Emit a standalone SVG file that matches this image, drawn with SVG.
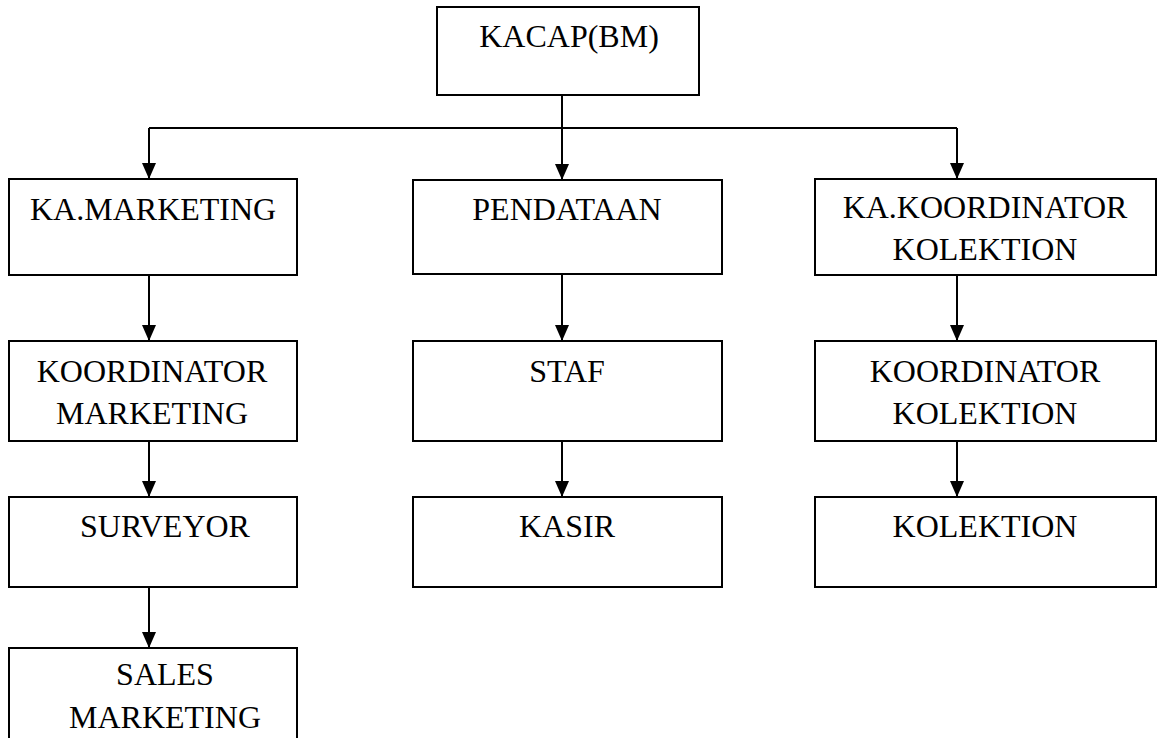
<svg xmlns="http://www.w3.org/2000/svg" width="1162" height="738" viewBox="0 0 1162 738">
<style>
.box{fill:#fff;stroke:#000;stroke-width:2}
.t{font-size:32px;fill:#000;text-anchor:middle}
.c{fill:none;stroke:#000;stroke-width:2}
</style>
<defs>
<marker id="ah" markerWidth="16" markerHeight="14" refX="16" refY="7" orient="auto" markerUnits="userSpaceOnUse" viewBox="0 0 16 14">
<path d="M0,0 L16,7 L0,14 Z" fill="#000"/>
</marker>
</defs>
<rect width="1162" height="738" fill="#fff"/>
<g id="connectors">
<path class="c" d="M562,95 V180" marker-end="url(#ah)"/>
<path class="c" d="M149,128 H957"/>
<path class="c" d="M149,128 V179" marker-end="url(#ah)"/>
<path class="c" d="M957,128 V179" marker-end="url(#ah)"/>
<path class="c" d="M149,275 V341" marker-end="url(#ah)"/>
<path class="c" d="M149,441 V497" marker-end="url(#ah)"/>
<path class="c" d="M149,587 V648" marker-end="url(#ah)"/>
<path class="c" d="M562,274 V341" marker-end="url(#ah)"/>
<path class="c" d="M562,441 V497" marker-end="url(#ah)"/>
<path class="c" d="M957,275 V341" marker-end="url(#ah)"/>
<path class="c" d="M957,441 V497" marker-end="url(#ah)"/>
</g>
<g font-family="Liberation Serif, Times New Roman, serif">
<g id="kacap"><rect class="box" x="437" y="7" width="262" height="88"/><text class="t" x="569" y="47">KACAP(BM)</text></g>
<g id="ka-marketing"><rect class="box" x="9" y="179" width="288" height="96"/><text class="t" x="30" y="220" style="text-anchor:start">KA.MARKETING</text></g>
<g id="pendataan"><rect class="box" x="413" y="180" width="309" height="94"/><text class="t" x="567" y="220">PENDATAAN</text></g>
<g id="ka-koordinator-kolektion"><rect class="box" x="815" y="179" width="341" height="96"/><text class="t" x="985" y="218">KA.KOORDINATOR</text><text class="t" x="985" y="260">KOLEKTION</text></g>
<g id="koordinator-marketing"><rect class="box" x="9" y="341" width="288" height="100"/><text class="t" x="152" y="382">KOORDINATOR</text><text class="t" x="152" y="424">MARKETING</text></g>
<g id="staf"><rect class="box" x="413" y="341" width="309" height="100"/><text class="t" x="567" y="382">STAF</text></g>
<g id="koordinator-kolektion"><rect class="box" x="815" y="341" width="341" height="100"/><text class="t" x="985" y="382">KOORDINATOR</text><text class="t" x="985" y="424">KOLEKTION</text></g>
<g id="surveyor"><rect class="box" x="9" y="497" width="288" height="90"/><text class="t" x="165" y="537">SURVEYOR</text></g>
<g id="kasir"><rect class="box" x="413" y="497" width="309" height="90"/><text class="t" x="567" y="537">KASIR</text></g>
<g id="kolektion"><rect class="box" x="815" y="497" width="341" height="90"/><text class="t" x="985" y="537">KOLEKTION</text></g>
<g id="sales-marketing"><rect class="box" x="9" y="648" width="288" height="100"/><text class="t" x="165" y="685">SALES</text><text class="t" x="165" y="728">MARKETING</text></g>
</g>
</svg>
